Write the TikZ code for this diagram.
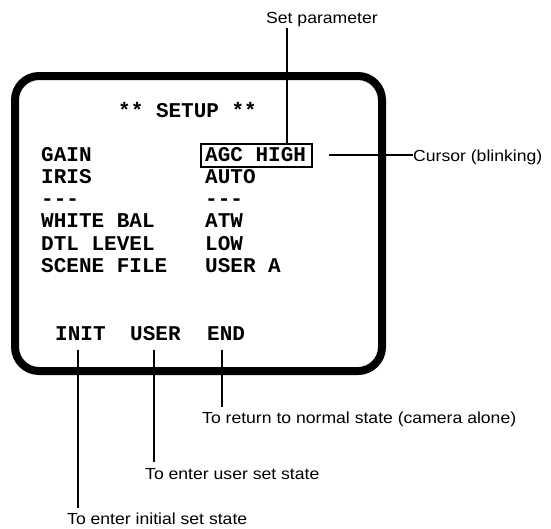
\documentclass[tikz,border=0pt]{standalone}
\usepackage{fontspec}
\setmonofont{Liberation Mono}
\newfontfamily\lab[FakeStretch=1.1]{Liberation Sans}
\begin{document}
\begin{tikzpicture}[x=1pt,y=-1pt,
  mono/.style={anchor=base west,inner sep=0pt,font=\fontsize{21}{21}\selectfont\ttfamily\bfseries},
  note/.style={anchor=base west,inner sep=0pt,font=\fontsize{16}{16}\selectfont\lab},
  leader/.style={line width=1.2pt}]
\useasboundingbox (0,0) rectangle (551,528);
% screen frame
\draw[line width=8pt, rounded corners=24pt] (15,76) rectangle (382,371);
% menu texts
\node[mono] (title) at (118,117) {** SETUP **};
\node[mono] (gain) at (41,161) {GAIN};
\node[mono] (iris) at (41,183.4) {IRIS};
\node[mono] (d1) at (41,205.6) {---};
\node[mono] (wb) at (41,227.8) {WHITE BAL};
\node[mono] (dtl) at (41,250) {DTL LEVEL};
\node[mono] (scene) at (41,272.2) {SCENE FILE};
\node[mono] (agc) at (205,161) {AGC HIGH};
\node[mono] (auto) at (205,183.4) {AUTO};
\node[mono] (d2) at (205,205.6) {---};
\node[mono] (atw) at (205,227.8) {ATW};
\node[mono] (low) at (205,250) {LOW};
\node[mono] (usera) at (205,272.2) {USER A};
\node[mono] (init) at (55,340) {INIT};
\node[mono] (user) at (130,340) {USER};
\node[mono] (endk) at (207,340) {END};
% cursor box
\draw[line width=1.6pt] (201,144) rectangle (312,167);
\coordinate (boxtop) at (287,144);
\coordinate (boxright) at (329,155);
% annotations
\node[note] (setp) at (266,23) {Set parameter};
\node[note] (curs) at (413,161) {Cursor (blinking)};
\node[note] (ret) at (202,423) {To return to normal state (camera alone)};
\node[note] (usr) at (145,479) {To enter user set state};
\node[note] (ini) at (67,524) {To enter initial set state};
% leaders
\draw[leader] (boxtop |- 0,28) -- (boxtop);
\draw[leader] (boxright) -- (curs.west |- boxright);
\coordinate (li) at (78,350);
\coordinate (lu) at (154,350);
\coordinate (le) at (222,350);
\draw[leader] (li) -- (li |- 0,508);
\draw[leader] (lu) -- (lu |- 0,462);
\draw[leader] (le) -- (le |- 0,407);
\end{tikzpicture}
\end{document}
